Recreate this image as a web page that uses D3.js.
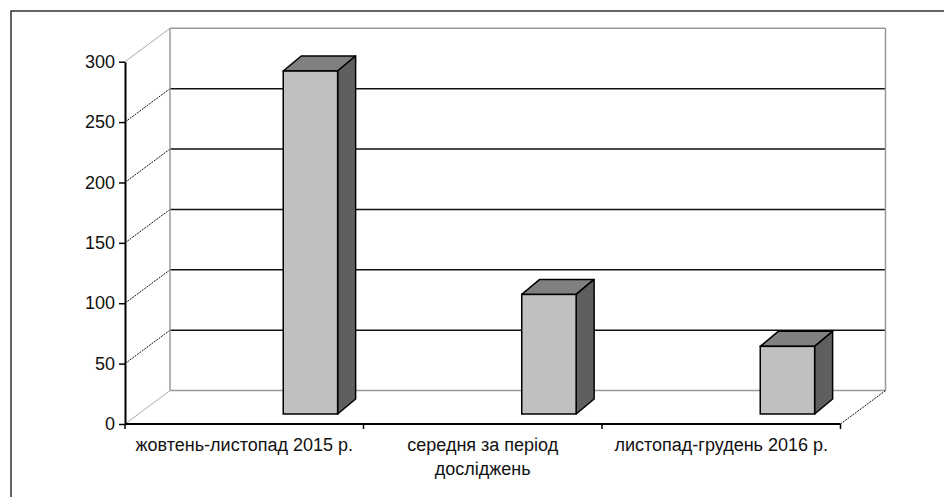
<!DOCTYPE html>
<html lang="uk">
<head>
<meta charset="utf-8">
<title>chart</title>
<script src="https://d3js.org/d3.v7.min.js"></script>
<style>
  body { margin: 0; background: #fff; }
  text { font-family: Arial, "Liberation Sans", sans-serif; font-size: 18px; fill: #111; }
</style>
</head>
<body>
<div id="chart"></div>
<script>
// data
var categories = ["жовтень-листопад 2015 р.", "середня за період досліджень", "листопад-грудень 2016 р."];
var labelLines = [["жовтень-листопад 2015 р."], ["середня за період", "досліджень"], ["листопад-грудень 2016 р."]];
var values = [284, 99, 56];
var yTicks = [0, 50, 100, 150, 200, 250, 300];

var W = 944, H = 497;
var wallDx = 45, wallDy = 33.4;   // depth of the back wall
var barDx = 18, barDy = 15;       // depth of each bar
var planeDy = 10;                 // bar front plane sits behind the axis

var svg = d3.select("#chart").append("svg")
    .attr("width", W).attr("height", H);

var y = d3.scaleLinear().domain([0, 300]).range([424, 61.7]);
var x = d3.scaleBand().domain(categories).range([125, 840.5]).padding(0);
var bw = x.bandwidth();

// outer frame (cut off on right and bottom)
svg.append("rect")
    .attr("x", 11).attr("y", 11)
    .attr("width", 950).attr("height", 500)
    .attr("fill", "none").attr("stroke", "#333").attr("stroke-width", 1.5);

var wallL = 125 + wallDx, wallR = 840.5 + wallDx;

// back wall gridlines
svg.append("g").selectAll("line")
    .data(yTicks).enter().append("line")
    .attr("x1", wallL).attr("x2", wallR)
    .attr("y1", function(d) { return y(d) - wallDy; })
    .attr("y2", function(d) { return y(d) - wallDy; })
    .attr("stroke", function(d) { return (d === 0 || d === 300) ? "#999" : "#111"; })
    .attr("stroke-width", 1.5);

// diagonals from axis ticks to the wall
svg.append("g").selectAll("line")
    .data(yTicks).enter().append("line")
    .attr("x1", 125).attr("x2", wallL)
    .attr("y1", function(d) { return y(d); })
    .attr("y2", function(d) { return y(d) - wallDy; })
    .attr("stroke", function(d) { return (d === 0 || d === 300) ? "#aaa" : "#111"; })
    .attr("stroke-width", 1)
    .attr("stroke-dasharray", function(d) { return (d === 0 || d === 300) ? null : "2,1"; });

// wall edges
svg.append("line")
    .attr("x1", wallL).attr("x2", wallL)
    .attr("y1", y(300) - wallDy).attr("y2", y(0) - wallDy)
    .attr("stroke", "#999").attr("stroke-width", 1.5);
svg.append("line")
    .attr("x1", wallR).attr("x2", wallR)
    .attr("y1", y(300) - wallDy).attr("y2", y(0) - wallDy)
    .attr("stroke", "#999").attr("stroke-width", 1.5);

// floor right edge
svg.append("line")
    .attr("x1", 840.5).attr("y1", y(0))
    .attr("x2", wallR).attr("y2", y(0) - wallDy)
    .attr("stroke", "#111").attr("stroke-width", 1)
    .attr("stroke-dasharray", "2,1");

// bars
var bars = svg.append("g").selectAll("g")
    .data(values).enter().append("g");

function bx(i) { return x(categories[i]) + bw * 0.6635; }
var fw = bw * 0.228;

bars.append("polygon")
    .attr("points", function(d, i) {
        var l = bx(i), r = l + fw, t = y(d) - planeDy;
        return [[l, t], [r, t], [r + barDx, t - barDy], [l + barDx, t - barDy]].join(" ");
    })
    .attr("fill", "#808080").attr("stroke", "#000").attr("stroke-width", 1.5)
    .attr("stroke-linejoin", "round");

bars.append("polygon")
    .attr("points", function(d, i) {
        var r = bx(i) + fw, t = y(d) - planeDy, b = y(0) - planeDy;
        return [[r, t], [r + barDx, t - barDy], [r + barDx, b - barDy], [r, b]].join(" ");
    })
    .attr("fill", "#5f5f5f").attr("stroke", "#000").attr("stroke-width", 1.5)
    .attr("stroke-linejoin", "round");

bars.append("rect")
    .attr("x", function(d, i) { return bx(i); })
    .attr("y", function(d) { return y(d) - planeDy; })
    .attr("width", fw)
    .attr("height", function(d) { return y(0) - y(d); })
    .attr("fill", "#c0c0c0").attr("stroke", "#000").attr("stroke-width", 1.5);

// y axis
var yAxis = svg.append("g")
    .attr("transform", "translate(125,0)")
    .call(d3.axisLeft(y).tickValues(yTicks).tickSize(6).tickPadding(4).tickSizeOuter(0));
yAxis.select(".domain").attr("stroke", "#000").attr("stroke-width", 2);
yAxis.selectAll(".tick line").attr("stroke", "#000").attr("stroke-width", 1.5);
yAxis.selectAll("text")
    .style("font-family", "Arial, 'Liberation Sans', sans-serif")
    .style("font-size", "18px").attr("fill", "#111");

// x axis line and boundary ticks
svg.append("line")
    .attr("x1", 125).attr("x2", 840.5)
    .attr("y1", y(0)).attr("y2", y(0))
    .attr("stroke", "#000").attr("stroke-width", 2);

var bounds = categories.map(function(c) { return x(c); }).concat([840.5]);
svg.append("g").selectAll("line")
    .data(bounds).enter().append("line")
    .attr("x1", function(d) { return d; }).attr("x2", function(d) { return d; })
    .attr("y1", y(0)).attr("y2", y(0) + 5)
    .attr("stroke", "#000").attr("stroke-width", 1.5);

// category labels
var labels = svg.append("g").selectAll("text")
    .data(labelLines).enter().append("text")
    .attr("text-anchor", "middle")
    .attr("x", function(d, i) { return x(categories[i]) + bw / 2; })
    .attr("y", 451);

labels.selectAll("tspan")
    .data(function(d, i) { return d.map(function(t) { return { t: t, i: i }; }); })
    .enter().append("tspan")
    .attr("x", function(d) { return x(categories[d.i]) + bw / 2; })
    .attr("dy", function(d, j) { return j === 0 ? 0 : 24; })
    .text(function(d) { return d.t; });
</script>
</body>
</html>
